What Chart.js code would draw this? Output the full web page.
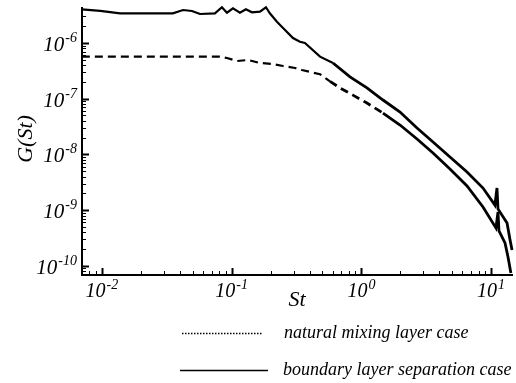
<!DOCTYPE html>
<html lang="en">
<head>
<meta charset="UTF-8">
<title>G(St) spectra</title>
<script src="https://cdn.jsdelivr.net/npm/chart.js"></script>
<style>
  html, body { margin: 0; padding: 0; background: #fff; }
  canvas { display: block; }
</style>
</head>
<body>
<canvas id="spectrum" width="516" height="383"></canvas>
<script>
// natural mixing layer case (dashed)
const stMixing = [0.0070, 0.028, 0.0812, 0.092, 0.110, 0.1336, 0.165, 0.208, 0.249, 0.308, 0.348,
  0.48, 0.573, 0.684, 0.861, 1.104, 1.468, 1.986, 2.685, 3.566, 4.82, 6.52, 8.66,
  10.9, 11.3, 11.5, 12.8, 13.5, 14.2];
const gMixing = [5.68e-7, 5.68e-7, 5.68e-7, 5.38e-7, 4.75e-7, 4.96e-7, 4.38e-7, 4.20e-7, 3.86e-7, 3.56e-7, 3.27e-7,
  2.75e-7, 2.05e-7, 1.56e-7, 1.16e-7, 8.37e-8, 5.53e-8, 3.37e-8, 1.89e-8, 1.06e-8, 5.47e-9, 2.71e-9, 1.14e-9,
  4.78e-10, 9.25e-10, 4.22e-10, 2.57e-10, 1.44e-10, 7.4e-11];

// boundary layer separation case (solid)
const stSeparation = [0.0070, 0.0097, 0.0138, 0.028, 0.0352, 0.0422, 0.0494, 0.057, 0.0743, 0.0841,
  0.092, 0.1023, 0.1158, 0.1288, 0.1434, 0.1652, 0.1838, 0.197, 0.2233, 0.249, 0.297, 0.336, 0.367,
  0.48, 0.604, 0.817, 1.104, 1.468, 1.986, 2.685, 3.566, 4.82, 6.52, 8.66,
  10.7, 11.1, 11.3, 13.27, 14.0, 14.5];
const gSeparation = [4.03e-6, 3.76e-6, 3.41e-6, 3.41e-6, 3.41e-6, 3.91e-6, 3.76e-6, 3.32e-6, 3.41e-6, 4.38e-6,
  3.50e-6, 4.20e-6, 3.50e-6, 4.03e-6, 3.56e-6, 3.65e-6, 4.38e-6, 3.41e-6, 2.41e-6, 1.86e-6, 1.23e-6, 1.05e-6, 1.0e-6,
  5.68e-7, 4.38e-7, 2.46e-7, 1.56e-7, 9.48e-8, 5.77e-8, 2.98e-8, 1.67e-8, 8.98e-9, 4.83e-9, 2.49e-9,
  1.23e-9, 2.49e-9, 1.05e-9, 5.87e-10, 2.90e-10, 1.92e-10];

const xDecades = [-2, -1, 0, 1];
const yDecades = [-6, -7, -8, -9, -10];
const legendLabels = ['natural mixing layer case', 'boundary layer separation case'];

const toPoints = (xs, ys) => xs.map((x, i) => ({ x: x, y: ys[i] }));
const serif = '"Liberation Serif", "DejaVu Serif", serif';
// noisy high-frequency part of the spectra looks thicker
const noisyWidth = c => c.p0.parsed.x > 0.5 ? 2.8 : 2.2;

function drawPow(ctx, exp, x, y, align, size) {
  const supSize = Math.round(size * 0.68);
  ctx.font = 'italic ' + size + 'px ' + serif;
  const wBase = ctx.measureText('10').width;
  ctx.font = 'italic ' + supSize + 'px ' + serif;
  const sup = String(exp);
  const wSup = ctx.measureText(sup).width;
  const total = wBase + 1 + wSup;
  const x0 = align === 'right' ? x - total : x - total / 2;
  ctx.textAlign = 'left';
  ctx.textBaseline = 'alphabetic';
  ctx.font = 'italic ' + size + 'px ' + serif;
  ctx.fillText('10', x0, y);
  ctx.font = 'italic ' + supSize + 'px ' + serif;
  ctx.fillText(sup, x0 + wBase + 1, y - Math.round(size * 0.42));
}

const axesPlugin = {
  id: 'axesPlugin',
  afterDraw(chart) {
    const ctx = chart.ctx;
    const area = chart.chartArea;
    const xs = chart.scales.x, ys = chart.scales.y;
    ctx.save();
    ctx.strokeStyle = '#000';
    ctx.fillStyle = '#000';

    // axis lines
    ctx.lineWidth = 2;
    ctx.beginPath();
    ctx.moveTo(area.left, area.top);
    ctx.lineTo(area.left, area.bottom);
    ctx.lineTo(area.right, area.bottom);
    ctx.stroke();

    // ticks, drawn inward
    for (let d = -3; d <= 1; d++) {
      for (let m = 1; m <= 9; m++) {
        const v = m * Math.pow(10, d);
        if (v < xs.min || v > xs.max) continue;
        const px = Math.round(xs.getPixelForValue(v)) + 0.5;
        const len = m === 1 ? 7 : 4;
        ctx.lineWidth = m === 1 ? 2 : 1;
        ctx.beginPath();
        ctx.moveTo(px, area.bottom);
        ctx.lineTo(px, area.bottom - len);
        ctx.stroke();
      }
    }
    for (let d = -11; d <= -5; d++) {
      for (let m = 1; m <= 9; m++) {
        const v = m * Math.pow(10, d);
        if (v < ys.min || v > ys.max) continue;
        const py = Math.round(ys.getPixelForValue(v)) + 0.5;
        const len = m === 1 ? 7 : 4;
        ctx.lineWidth = m === 1 ? 2 : 1;
        ctx.beginPath();
        ctx.moveTo(area.left, py);
        ctx.lineTo(area.left + len, py);
        ctx.stroke();
      }
    }

    // tick labels
    xDecades.forEach(d => {
      drawPow(ctx, d, xs.getPixelForValue(Math.pow(10, d)), area.bottom + 22, 'center', 20);
    });
    yDecades.forEach(d => {
      drawPow(ctx, d, area.left - 5, ys.getPixelForValue(Math.pow(10, d)) + 8, 'right', 21);
    });

    // axis titles
    ctx.font = 'italic 22px ' + serif;
    ctx.textAlign = 'center';
    ctx.textBaseline = 'middle';
    ctx.fillText('St', 297, 300);
    ctx.save();
    ctx.translate(26, 139);
    ctx.rotate(-Math.PI / 2);
    ctx.fillText('G(St)', 0, 0);
    ctx.restore();

    // legend
    ctx.lineWidth = 1.5;
    ctx.setLineDash([1.5, 1.5]);
    ctx.beginPath();
    ctx.moveTo(182, 333.5);
    ctx.lineTo(262, 333.5);
    ctx.stroke();
    ctx.setLineDash([]);
    ctx.beginPath();
    ctx.moveTo(180, 370.5);
    ctx.lineTo(268, 370.5);
    ctx.stroke();
    ctx.font = 'italic 18px ' + serif;
    ctx.textAlign = 'left';
    ctx.textBaseline = 'middle';
    ctx.fillText(legendLabels[0], 284, 333);
    ctx.fillText(legendLabels[1], 283, 370);
    ctx.restore();
  }
};

new Chart(document.getElementById('spectrum'), {
  type: 'scatter',
  data: {
    datasets: [
      {
        label: legendLabels[0],
        data: toPoints(stMixing, gMixing),
        showLine: true,
        borderColor: '#000',
        borderWidth: 2.2,
        pointRadius: 0,
        clip: false,
        segment: {
          borderDash: c => c.p0.parsed.x < 1.3 ? [8, 5] : undefined,
          borderWidth: noisyWidth
        }
      },
      {
        label: legendLabels[1],
        data: toPoints(stSeparation, gSeparation),
        showLine: true,
        borderColor: '#000',
        borderWidth: 2.2,
        pointRadius: 0,
        clip: false,
        segment: {
          borderWidth: noisyWidth
        }
      }
    ]
  },
  options: {
    responsive: false,
    animation: false,
    layout: { padding: { left: 82, right: 3, top: 7, bottom: 108 } },
    plugins: { legend: { display: false }, tooltip: { enabled: false } },
    scales: {
      x: { type: 'logarithmic', display: false, min: 0.00702, max: 14.75 },
      y: { type: 'logarithmic', display: false, min: 6.84e-11, max: 4.43e-6 }
    }
  },
  plugins: [axesPlugin]
});
</script>
</body>
</html>
